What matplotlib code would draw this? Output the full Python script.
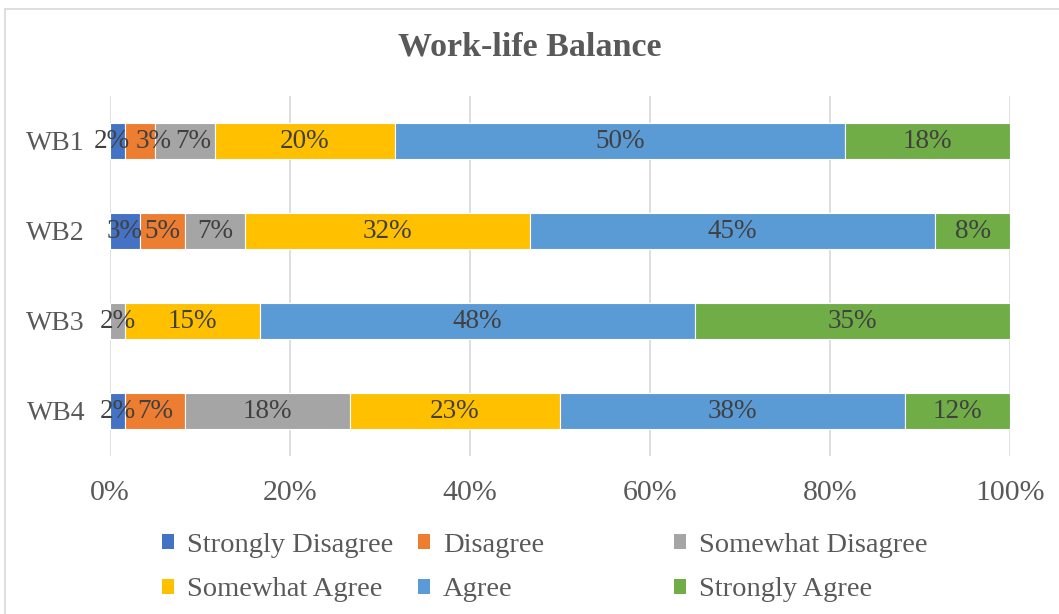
import matplotlib
matplotlib.use("Agg")
import matplotlib.pyplot as plt
from matplotlib.patches import Rectangle, Patch
import numpy as np

plt.rcParams['font.family'] = ['Liberation Serif', 'DejaVu Serif']

categories = ["WB1", "WB2", "WB3", "WB4"]
series_names = ["Strongly Disagree", "Disagree", "Somewhat Disagree",
                "Somewhat Agree", "Agree", "Strongly Agree"]
strongly_disagree = [1.67, 3.33, 0.0, 1.67]
disagree = [3.33, 5.00, 0.0, 6.67]
somewhat_disagree = [6.67, 6.67, 1.67, 18.33]
somewhat_agree = [20.00, 31.67, 15.00, 23.33]
agree = [50.00, 45.00, 48.33, 38.33]
strongly_agree = [18.33, 8.33, 35.00, 11.67]
colors = ["#4472C4", "#ED7D31", "#A5A5A5", "#FFC000", "#5B9BD5", "#70AD47"]
xtick_values = [0, 20, 40, 60, 80, 100]
xtick_labels = ["0%", "20%", "40%", "60%", "80%", "100%"]

series = [strongly_disagree, disagree, somewhat_disagree,
          somewhat_agree, agree, strongly_agree]

# small manual label nudges (points) as in the reference, keyed (series, row)
label_nudge = {(0, 0): -4, (1, 0): 10, (2, 0): 6}

W, H = 1059, 614
fig = plt.figure(figsize=(W / 100, H / 100), dpi=100)

# outer chart border
fig.patches.append(Rectangle((5 / W, -0.05), 1.2, 1 - 9 / H + 0.05,
                             transform=fig.transFigure, fill=False,
                             edgecolor="#D9D9D9", linewidth=1.2))

ax = fig.add_axes([110 / W, 1 - 456 / H, 900 / W, 360 / H])
y = np.arange(len(categories))
left = np.zeros(len(categories))
handles = []
for si, (name, vals, col) in enumerate(zip(series_names, series, colors)):
    vals = np.array(vals)
    ax.barh(y, vals, left=left, height=0.4, color=col,
            edgecolor="white", linewidth=0.8, label=name, zorder=3)
    for yi, v, l in zip(y, vals, left):
        if v > 0:
            ax.annotate(f"{round(v):d}%", xy=(l + v / 2, yi),
                        xytext=(label_nudge.get((si, yi), 0), 0),
                        textcoords="offset points",
                        ha="center", va="center",
                        fontsize=19.5, color="#404040", zorder=4)
    handles.append(Patch(facecolor=col, edgecolor="none", label=name))
    left += vals

ax.set_xlim(0, 100)
ax.set_ylim(3.5, -0.5)
ax.set_yticks(y)
ax.set_yticklabels(categories)
ax.set_xticks(xtick_values)
ax.set_xticklabels(xtick_labels)
ax.tick_params(axis="both", length=0, labelcolor="#595959")
ax.tick_params(axis="x", pad=17, labelsize=21.5)
ax.tick_params(axis="y", pad=18, labelsize=20)
for s in ax.spines.values():
    s.set_visible(False)
ax.grid(axis="x", color="#D9D9D9", linewidth=1.2, zorder=0)
ax.set_axisbelow(True)

fig.text(0.5, 1 - 47 / H, "Work-life Balance", ha="center", va="center",
         fontsize=24.5, fontweight="bold", color="#595959")

col_x = [162, 418, 674]
for c in range(3):
    hs = [handles[c], handles[c + 3]]
    fig.legend(handles=hs, loc="upper left",
               bbox_to_anchor=(col_x[c] / W, 1 - 533 / H),
               frameon=False, fontsize=20.5, borderpad=0, borderaxespad=0,
               handlelength=0.42, handleheight=0.42, handletextpad=0.45,
               labelspacing=0.68, labelcolor="#595959")

fig.savefig("out.png", dpi=100)
